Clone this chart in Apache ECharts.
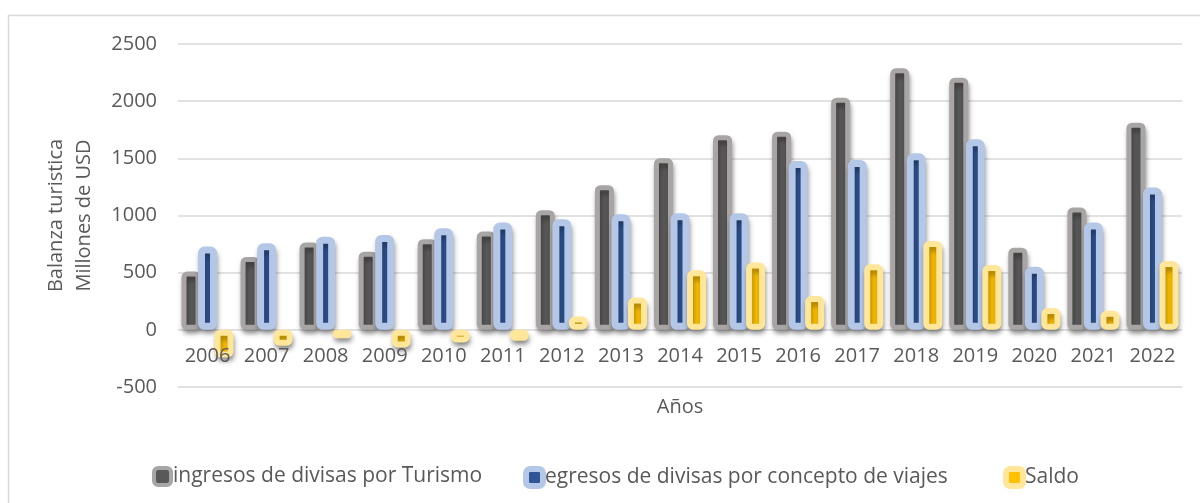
<!DOCTYPE html>
<html>
<head>
<meta charset="utf-8">
<script src="https://cdn.jsdelivr.net/npm/echarts@6/dist/echarts.min.js"></script>
<style>
  html, body { margin: 0; padding: 0; background: #fff; }
  #chart { width: 1200px; height: 503px; }
</style>
</head>
<body>
<div id="chart"></div>
<script>
// datos (millones de USD)
var years = ['2006', '2007', '2008', '2009', '2010', '2011', '2012', '2013', '2014',
             '2015', '2016', '2017', '2018', '2019', '2020', '2021', '2022'];
var ingresos = [510, 638, 763, 684, 793, 859, 1046, 1265, 1501, 1702, 1733, 2030, 2287, 2205, 719, 1069, 1812];
var egresos = [728, 758, 815, 830, 889, 938, 968, 1011, 1020, 1020, 1477, 1486, 1544, 1667, 551, 938, 1244];
var saldo = [-242, -140, -73, -155, -111, -96, 116, 282, 522, 588, 297, 574, 778, 568, 190, 166, 603];
var yTicks = [-500, 0, 500, 1000, 1500, 2000, 2500];

var names = ['ingresos de divisas por Turismo', 'egresos de divisas por concepto de viajes', 'Saldo'];
var font = 'Open Sans';
var txt = '#595959';

var myChart = echarts.init(document.getElementById('chart'));

// estilo tipo "resplandor" de Excel: borde claro grueso, relleno oscuro
function barStyle(fill, glow, bw) {
    return {
        color: fill,
        borderColor: glow,
        borderWidth: bw,
        borderRadius: 3,
        shadowColor: 'rgba(0,0,0,0.35)',
        shadowBlur: 5,
        shadowOffsetX: 1,
        shadowOffsetY: 4
    };
}

function legendItem(name, left, fill, glow, bw) {
    return {
        left: left,
        top: 461,
        itemWidth: 17,
        itemHeight: 17,
        icon: 'roundRect',
        textStyle: { fontFamily: font, fontSize: 21, color: txt, padding: [0, 0, 0, -3] },
        data: [{ name: name, itemStyle: { color: fill, borderColor: glow, borderWidth: bw, shadowBlur: 0, shadowOffsetY: 0, shadowOffsetX: 0 } }]
    };
}

var option = {
    animation: false,
    graphic: [{
        type: 'rect',
        shape: { x: 8.5, y: 15.5, width: 1300, height: 600 },
        style: { fill: 'none', stroke: '#d9d9d9', lineWidth: 1.5 },
        silent: true
    }],
    legend: [
        legendItem(names[0], 147, '#595959', '#a6a6a6', 4),
        legendItem(names[1], 518, '#2f5597', '#b4c7e7', 6),
        legendItem(names[2], 998, '#ffc000', '#ffe699', 6)
    ],
    grid: {
        left: 178,
        right: 18,
        top: 44,
        bottom: 116
    },
    xAxis: {
        type: 'category',
        data: years,
        z: 5,
        name: 'Años',
        nameLocation: 'middle',
        nameGap: 10,
        nameTextStyle: { fontFamily: font, fontSize: 20, color: txt },
        axisLine: { onZero: false, show: false },
        axisTick: { show: false },
        // etiquetas junto a la linea de cero, como en el original
        axisLabel: { interval: 0, fontFamily: font, fontSize: 20, color: txt, margin: -41 }
    },
    yAxis: {
        type: 'value',
        min: yTicks[0],
        max: yTicks[yTicks.length - 1],
        interval: 500,
        name: 'Balanza turistica\nMillones de USD',
        nameLocation: 'middle',
        nameRotate: 90,
        nameGap: 80,
        nameTextStyle: { fontFamily: font, fontSize: 20, color: txt, lineHeight: 28 },
        axisLine: { show: false },
        axisTick: { show: false },
        axisLabel: {
            fontFamily: font, fontSize: 20, color: txt, margin: 21,
            formatter: function (v) { return String(v); }
        },
        splitLine: { lineStyle: { color: '#d9d9d9', width: 1.5 } }
    },
    series: [{
        name: names[0],
        type: 'bar',
        data: ingresos,
        barWidth: 19,
        barGap: '-13%',
        itemStyle: barStyle('#595959', '#a8a5a4', 5)
    }, {
        name: names[1],
        type: 'bar',
        data: egresos,
        barWidth: 19,
        barGap: '-13%',
        itemStyle: barStyle('#2f5597', '#b4c7e7', 7)
    }, {
        name: names[2],
        type: 'bar',
        data: saldo,
        barWidth: 19,
        barGap: '-13%',
        itemStyle: barStyle('#ffc000', '#ffe699', 6)
    }]
};
myChart.setOption(option);
</script>
</body>
</html>
